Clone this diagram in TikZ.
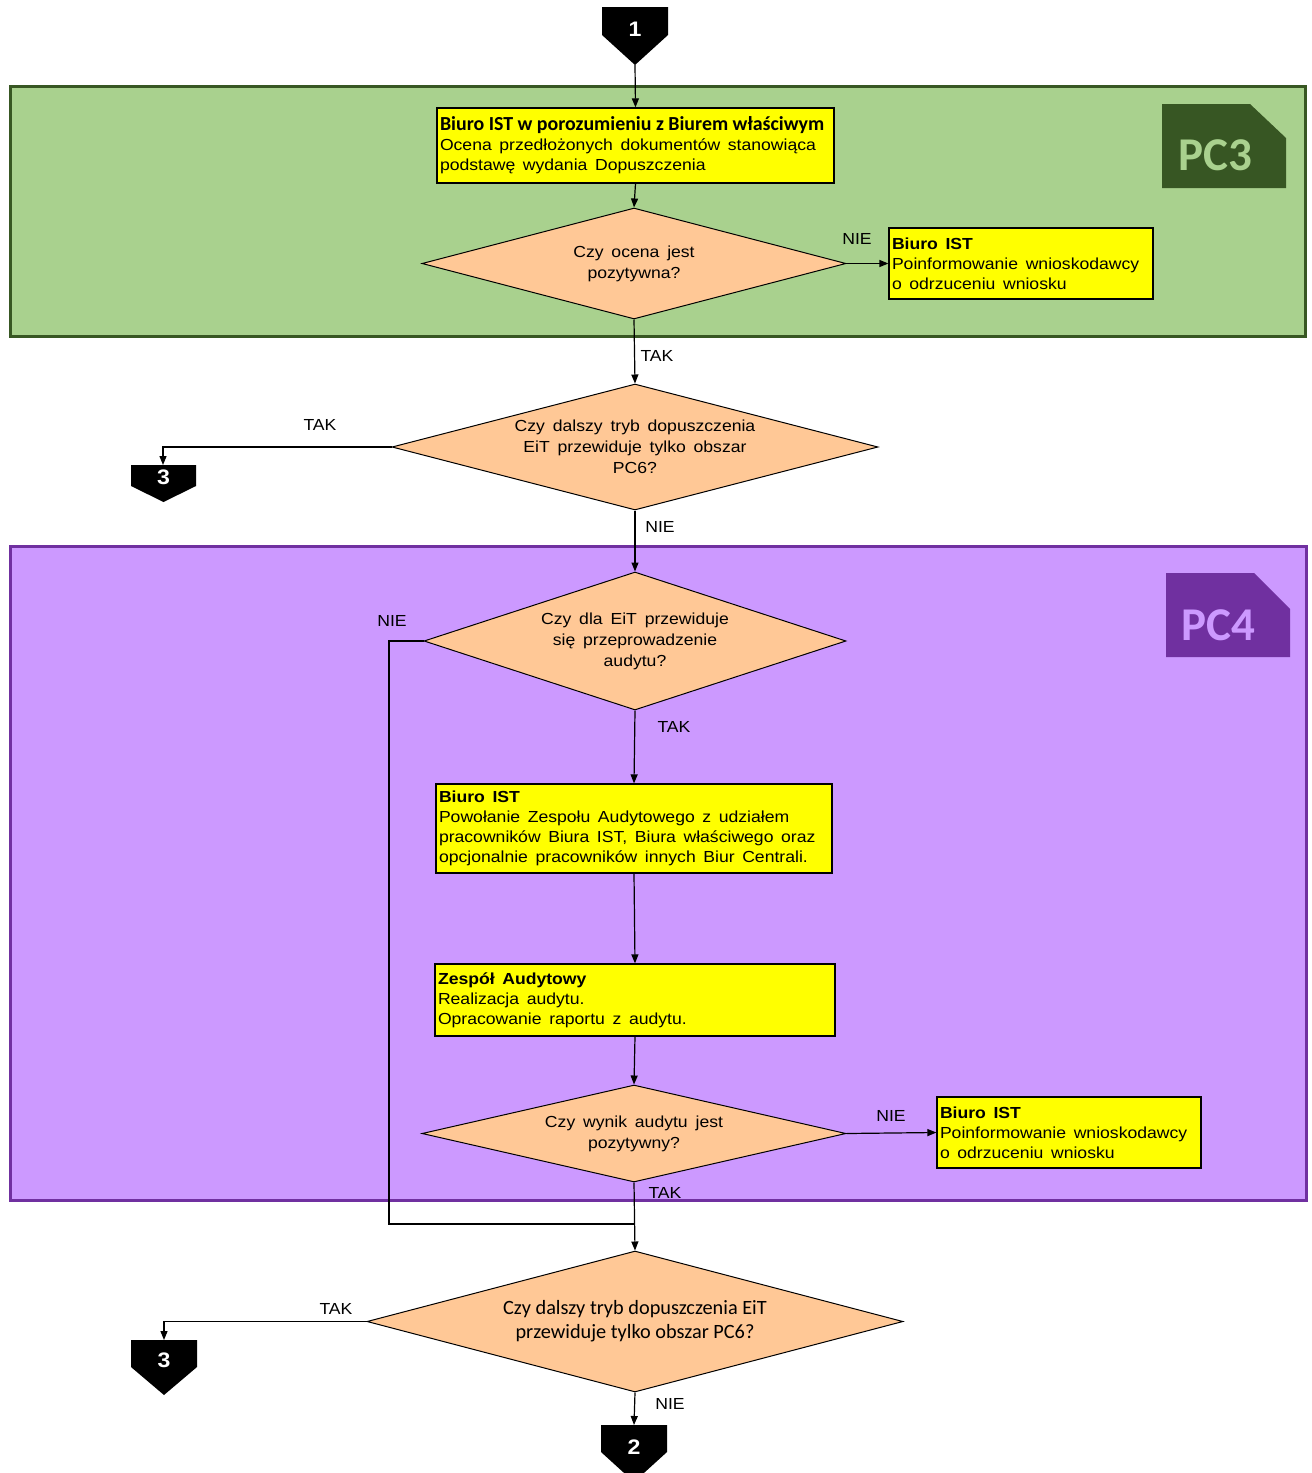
\documentclass[tikz,border=0pt]{standalone}
\usepackage{fontspec}
\setmainfont{Liberation Sans}[FakeStretch=1.1,WordSpace=1.6]
\newfontfamily\calfont{Carlito}
\usetikzlibrary{shapes.geometric,arrows.meta}
\definecolor{gfill}{HTML}{A9D18E}
\definecolor{gdark}{HTML}{385723}
\definecolor{gtag}{HTML}{375623}
\definecolor{pfill}{HTML}{CC99FF}
\definecolor{pdark}{HTML}{7030A0}
\definecolor{peach}{HTML}{FFC896}
\definecolor{yel}{HTML}{FFFF00}
\protected\def\boxsp{\spaceskip=7.6pt plus 1pt minus 1pt\relax}
\protected\def\nosp{\spaceskip=0pt\relax}
\begin{document}
\begin{tikzpicture}[x=1pt,y=-1pt,
  box/.style={draw=black, line width=1.2pt, fill=yel, inner sep=3pt, align=left, font=\fontsize{16}{20}\selectfont, execute at begin node=\boxsp},
  dia/.style={diamond, draw=black, line width=1pt, fill=peach, inner sep=0pt},
  diatext/.style={inner sep=0pt, align=center, font=\fontsize{16}{21}\selectfont},
  lab/.style={font=\fontsize{16}{18}\selectfont, inner sep=0pt},
  arr/.style={-{Triangle[length=9pt,width=7pt]}, line width=1.2pt},
  ln/.style={line width=1.2pt},
  num/.style={text=white, font=\fontsize{21}{21}\selectfont\bfseries, inner sep=0pt},
  tag/.style={font={\calfont\bfseries\fontsize{47}{47}\selectfont}, inner sep=0pt}
]
\useasboundingbox (0,0) rectangle (1312,1473);
\fill[white] (0,0) rectangle (1312,1473);

% regions
\draw[fill=gfill, draw=gdark, line width=3pt] (10,86) rectangle (1305,336);
\fill[gtag] (1162,104) -- (1250,104) -- (1286,138) -- (1286,188) -- (1162,188) -- cycle;
\node[tag, text=gfill] (pc3) at (1215,155) {PC3};

\draw[fill=pfill, draw=pdark, line width=3pt] (10,546) rectangle (1306,1200);
\fill[pdark] (1166,573) -- (1254,573) -- (1290,609) -- (1290,657) -- (1166,657) -- cycle;
\node[tag, text=pfill] (pc4) at (1218,625) {PC4};

% off-page connectors
\fill[black] (602,7) -- (668,7) -- (668,35) -- (635,65) -- (602,35) -- cycle;
\node[num] (n1) at (635,29) {1};
\coordinate (c1tip) at (635,65);

\fill[black] (131,465) -- (196,465) -- (196,486) -- (163.5,502) -- (131,486) -- cycle;
\node[num] (n3a) at (163.5,477) {3};
\coordinate (c3atop) at (163,465);

\fill[black] (131,1340) -- (197,1340) -- (197,1367) -- (164,1395) -- (131,1367) -- cycle;
\node[num] (n3b) at (164,1360) {3};
\coordinate (c3btop) at (164,1340);

\fill[black] (601,1425) -- (667,1425) -- (667,1452) -- (634,1482) -- (601,1452) -- cycle;
\node[num] (n2) at (634,1447) {2};
\coordinate (c2top) at (634,1425);

% boxes
\node[box, text width=391pt, minimum height=75pt] (b1) at (635.5,145.5)
  {{\calfont\bfseries\fontsize{19.9}{20}\selectfont\nosp Biuro IST w porozumieniu z Biurem właściwym}\\
   Ocena przedłożonych dokumentów stanowiąca\\
   podstawę wydania Dopuszczenia};
\node[box, text width=258pt, minimum height=71pt] (b2) at (1021,263.5)
  {\textbf{Biuro IST}\\ Poinformowanie wnioskodawcy\\ o odrzuceniu wniosku};
\node[box, text width=390pt, minimum height=89pt] (b3) at (634,828.5)
  {\textbf{Biuro IST}\\ Powołanie Zespołu Audytowego z udziałem\\ pracowników Biura IST, Biura właściwego oraz\\ opcjonalnie pracowników innych Biur Centrali.};
\node[box, text width=394pt, minimum height=72pt] (b4) at (635,1000)
  {\textbf{Zespół Audytowy}\\ Realizacja audytu.\\ Opracowanie raportu z audytu.};
\node[box, text width=258pt, minimum height=71pt] (b5) at (1069,1132.5)
  {\textbf{Biuro IST}\\ Poinformowanie wnioskodawcy\\ o odrzuceniu wniosku};

% decisions
\node[dia, minimum width=424pt, minimum height=111pt] (d1) at (634,263.5) {};
\node[diatext] (d1t) at (d1.center) {Czy ocena jest\\ pozytywna?};
\node[dia, minimum width=486pt, minimum height=126pt] (d2) at (635,447) {};
\node[diatext] (d2t) at (d2.center) {Czy dalszy tryb dopuszczenia\\ EiT przewiduje tylko obszar\\ PC6?};
\node[dia, minimum width=422pt, minimum height=138pt] (d3) at (635,641) {};
\node[diatext] (d3t) at (d3.center) {Czy dla EiT przewiduje\\ się przeprowadzenie\\ audytu?};
\node[dia, minimum width=424pt, minimum height=97pt] (d4) at (634,1133.5) {};
\node[diatext] (d4t) at (d4.center) {Czy wynik audytu jest\\ pozytywny?};
\node[dia, minimum width=536pt, minimum height=141pt] (d5) at (635,1321.5) {};
\node[diatext, font={\calfont\fontsize{20.3}{24}\selectfont}] (d5t) at (d5.center) {Czy dalszy tryb dopuszczenia EiT\\ przewiduje tylko obszar PC6?};

% labels
\node[lab] (l1) at (857,239) {NIE};
\node[lab] (l2) at (657,356) {TAK};
\node[lab] (l3) at (320,425) {TAK};
\node[lab] (l4) at (660,527) {NIE};
\node[lab] (l5) at (392,621) {NIE};
\node[lab] (l6) at (674,727) {TAK};
\node[lab] (l7) at (891,1116) {NIE};
\node[lab] (l8) at (665,1193) {TAK};
\node[lab] (l9) at (336,1309) {TAK};
\node[lab] (l10) at (670,1404) {NIE};

% connectors
\coordinate (j) at (634,1224);
\coordinate (jl) at (389,641);
\draw[arr] (c1tip) -- (b1.north);
\draw[arr] (b1.south) -- (d1.north);
\draw[arr] (d1.east) -- (b2.west);
\draw[arr] (d1.south) -- (d2.north);
\draw[arr] (d2.west) -| (c3atop);
\draw[arr] (d2.south) -- (d3.north);
\draw[arr] (d3.south) -- (b3.north);
\draw[arr] (b3.south) -- (b4.north);
\draw[arr] (b4.south) -- (d4.north);
\draw[arr] (d4.east) -- (b5.west);
\draw[arr] (d4.south) -- (d5.north);
\draw[ln] (d3.west) -- (jl) |- (j);
\draw[arr] (d5.west) -| (c3btop);
\draw[arr] (d5.south) -- (c2top);
\end{tikzpicture}
\end{document}
